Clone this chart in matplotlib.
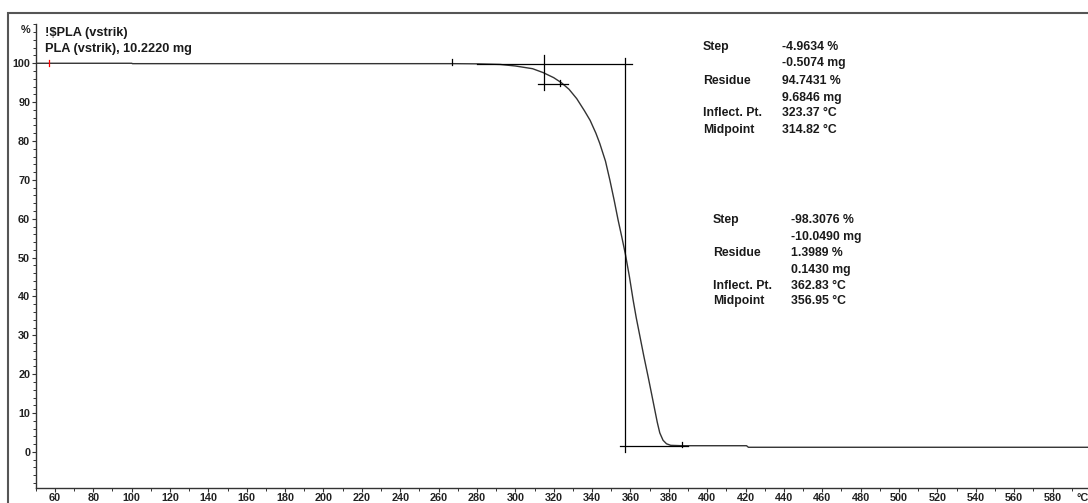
import matplotlib.pyplot as plt
from matplotlib.patches import Rectangle
from matplotlib.ticker import MultipleLocator

plt.rcParams['font.family'] = ['Liberation Sans', 'DejaVu Sans']

# TGA curve of PLA
temp = [50, 100, 100.5, 200, 267, 280, 292, 300, 309, 314.5, 320, 324, 328, 332, 336,
        339, 342, 344, 347, 349.3, 351.5, 353.6, 355.5, 357.4, 359.5, 361.4, 363, 365,
        367, 369.2, 371, 372.7, 374, 375.3, 377, 378.8, 381, 387, 400, 420.5, 421.5, 600]
pct = [100, 100, 99.9, 99.9, 99.9, 99.85, 99.7, 99.3, 98.6, 97.6, 96.3, 95.0, 93.3, 90.9,
       87.8, 85.3, 82.0, 79.4, 74.8, 69.9, 64.8, 59.6, 55.3, 50.8, 45.0, 39.1, 34.6, 29.6,
       24.6, 19.4, 15.0, 10.8, 7.6, 4.9, 3.0, 2.1, 1.7, 1.6, 1.6, 1.6, 1.2, 1.2]

step1 = ["-4.9634 %", "-0.5074 mg", "94.7431 %", "9.6846 mg", "323.37 °C", "314.82 °C"]
step2 = ["-98.3076 %", "-10.0490 mg", "1.3989 %", "0.1430 mg", "362.83 °C", "356.95 °C"]
names = ["Step", "", "Residue", "", "Inflect. Pt.", "Midpoint"]

W, H = 1088, 503
fig = plt.figure(figsize=(W / 100, H / 100), dpi=100)
ax = fig.add_axes([35.7 / W, 1 - 487.7 / H, (W - 35.7) / W, (487.7 - 24.4) / H])
ax.set_xlim(50, 598.5)
ax.set_ylim(-9.2, 110)

# outer frame
fig.patches.append(Rectangle((8 / W, -0.1), 1.2, 1 - 13 / H + 0.1, transform=fig.transFigure,
                             fill=False, ec='#555555', lw=1.5))

ax.plot(temp, pct, color='#333333', lw=1.0)

# evaluation lines
k = dict(color='black', lw=0.9)
ax.plot([280, 360.6], [99.9, 99.9], **k)
ax.plot([356.95, 356.95], [101.3, 0.0], **k)
ax.plot([354.5, 390], [1.5, 1.5], **k)
ax.plot([314.82, 314.82], [102.0, 93.0], **k)
ax.plot([311.7, 327.4], [94.74, 94.74], **k)
ax.plot([323.37, 323.37], [94.2, 95.8], **k)
ax.plot([267, 267], [99.5, 101.0], **k)
ax.plot([387, 387], [1.2, 2.6], **k)
ax.plot([57, 57], [99.3, 100.8], color='red', lw=0.9)

for s in ['top', 'right']:
    ax.spines[s].set_visible(False)
for s in ['left', 'bottom']:
    ax.spines[s].set_color('#333333')
    ax.spines[s].set_linewidth(1.0)

ax.xaxis.set_minor_locator(MultipleLocator(10))
ax.yaxis.set_minor_locator(MultipleLocator(2))
ax.set_xticks([t for t in range(60, 600, 20)])
ax.set_yticks(range(0, 101, 10))
ax.tick_params(which='major', length=3, width=0.8, pad=1, labelsize=7.8, colors='#333333')
ax.tick_params(which='minor', length=2, width=0.7, colors='#333333')
for lab in ax.get_xticklabels() + ax.get_yticklabels():
    lab.set_fontweight('bold')
    lab.set_color('#222222')

tk = dict(fontsize=7.8, fontweight='bold', color='#222222', va='center')
fig.text(1083 / W, 1 - 498 / H, "°C", ha='center', **tk)
fig.text(30 / W, 1 - 30 / H, "%", ha='right', **tk)

hk = dict(fontsize=9.2, fontweight='bold', color='#1a1a1a', va='center', ha='left')
fig.text(45 / W, 1 - 32.7 / H, r"!\$PLA (vstrik)", **hk)
fig.text(45 / W, 1 - 49 / H, "PLA (vstrik), 10.2220 mg", **hk)

ak = dict(fontsize=8.8, fontweight='bold', color='#1a1a1a', va='center', ha='left')
ys1 = [46.7, 63.3, 80.7, 97.7, 113.3, 130]
ys2 = [220, 236.7, 252.7, 270, 286, 300.7]
for n, v, y in zip(names, step1, ys1):
    fig.text(703 / W, 1 - y / H, n, **ak)
    fig.text(782 / W, 1 - y / H, v, **ak)
for n, v, y in zip(names, step2, ys2):
    fig.text(713 / W, 1 - y / H, n, **ak)
    fig.text(791 / W, 1 - y / H, v, **ak)

fig.savefig("out.png", dpi=100)
